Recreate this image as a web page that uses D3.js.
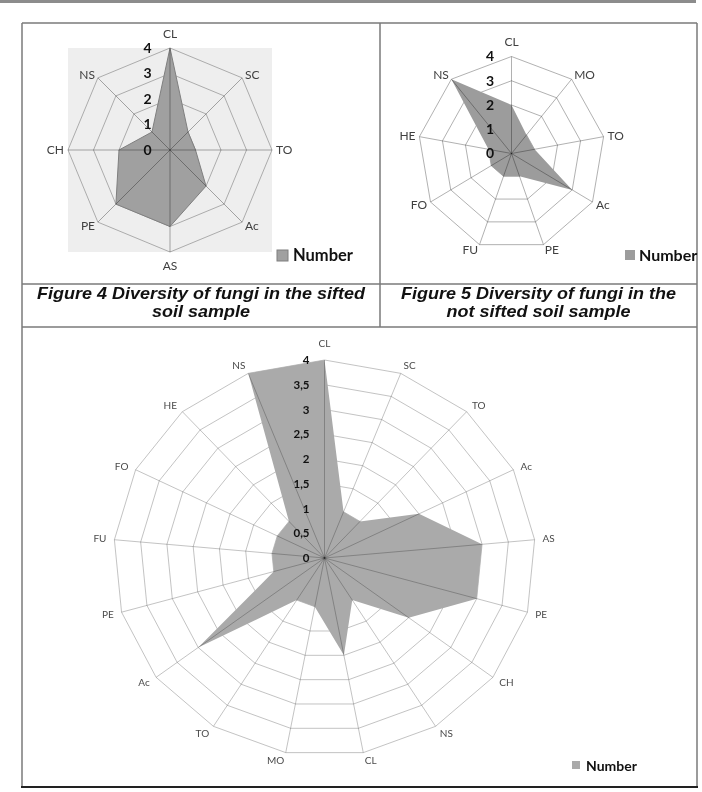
<!DOCTYPE html>
<html>
<head>
<meta charset="utf-8">
<script src="https://cdn.jsdelivr.net/npm/d3@7"></script>
<style>
  body { margin: 0; background: #fff; }
  svg { display: block; }
</style>
</head>
<body>
<svg id="page" width="702" height="792"></svg>
<script>
// Figure 4 - sifted soil sample
var fig4Categories = ["CL", "SC", "TO", "Ac", "AS", "PE", "CH", "NS"];
var fig4Values = [4, 1, 1, 2, 3, 3, 2, 1];
var fig4Ticks = [0, 1, 2, 3, 4];

// Figure 5 - not sifted soil sample
var fig5Categories = ["CL", "MO", "TO", "Ac", "PE", "FU", "FO", "HE", "NS"];
var fig5Values = [2, 1, 1, 3, 1, 1, 1, 1, 4];
var fig5Ticks = [0, 1, 2, 3, 4];

// Both samples in one chart
var allCategories = ["CL", "SC", "TO", "Ac", "AS", "PE", "CH", "NS",
                     "CL", "MO", "TO", "Ac", "PE", "FU", "FO", "HE", "NS"];
var allValues = [4, 1, 1, 2, 3, 3, 2, 1, 2, 1, 1, 3, 1, 1, 1, 1, 4];
var allTicks = [0, 0.5, 1, 1.5, 2, 2.5, 3, 3.5, 4];

var seriesName = "Number";
var captions = [
  ["Figure 4 Diversity of fungi in the sifted", "soil sample"],
  ["Figure 5 Diversity of fungi in the", "not sifted soil sample"]
];

// decimal comma, like the original
var fmt = d3.formatLocale({decimal: ",", thousands: ".", grouping: [3], currency: ["", ""]}).format("~g");

var svg = d3.select("#page");

// page rule and table frame
svg.append("rect").attr("x", 0).attr("y", 0).attr("width", 696).attr("height", 3).attr("fill", "#8c8c8c");

var frame = svg.append("g").attr("stroke", "#7a7a7a").attr("stroke-width", 1.5).attr("fill", "none");
frame.append("line").attr("x1", 22).attr("y1", 23).attr("x2", 697).attr("y2", 23);
frame.append("line").attr("x1", 22).attr("y1", 23).attr("x2", 22).attr("y2", 787);
frame.append("line").attr("x1", 697).attr("y1", 23).attr("x2", 697).attr("y2", 787);
frame.append("line").attr("x1", 380).attr("y1", 23).attr("x2", 380).attr("y2", 327);
frame.append("line").attr("x1", 22).attr("y1", 284).attr("x2", 697).attr("y2", 284);
frame.append("line").attr("x1", 22).attr("y1", 327).attr("x2", 697).attr("y2", 327);
svg.append("line").attr("x1", 21).attr("y1", 787).attr("x2", 698).attr("y2", 787)
  .attr("stroke", "#222").attr("stroke-width", 2);

// captions under the two small charts (the scanned page is a bit stretched sideways)
[201, 538.5].forEach(function(cx, k) {
  svg.append("text")
    .attr("transform", "translate(" + cx + ",0) scale(1.125,1)")
    .attr("y", 299.5)
    .attr("text-anchor", "middle")
    .style("font", "italic bold 16px 'Liberation Sans', Arial, sans-serif")
    .attr("fill", "#111")
    .selectAll("tspan")
    .data(captions[k])
    .enter().append("tspan")
      .attr("x", 0)
      .attr("dy", function(d, i) { return i ? 18 : 0; })
      .text(function(d) { return d; });
});

function drawRadar(cfg) {
  var n = cfg.categories.length;
  var angle = d3.scaleLinear().domain([0, n]).range([0, 2 * Math.PI]);
  var rx = d3.scaleLinear().domain([0, 4]).range([0, cfg.rx]);
  var ry = d3.scaleLinear().domain([0, 4]).range([0, cfg.ry]);

  function point(i, v) {
    var a = angle(i);
    return [cfg.cx + rx(v) * Math.sin(a), cfg.cy - ry(v) * Math.cos(a)];
  }

  var closed = d3.line().curve(d3.curveLinearClosed);
  var g = svg.append("g");

  if (cfg.background) {
    g.append("rect")
      .attr("x", cfg.cx - cfg.rx).attr("y", cfg.cy - cfg.ry)
      .attr("width", 2 * cfg.rx).attr("height", 2 * cfg.ry)
      .attr("fill", cfg.background);
  }

  // rings
  g.selectAll(".ring")
    .data(cfg.ticks.filter(function(t) { return t > 0; }))
    .enter().append("path")
      .attr("class", "ring")
      .attr("d", function(t) { return closed(d3.range(n).map(function(i) { return point(i, t); })); })
      .attr("fill", "none")
      .attr("stroke", cfg.grid)
      .attr("stroke-width", 0.9);

  // the series
  g.append("path")
    .attr("d", closed(cfg.values.map(function(v, i) { return point(i, v); })))
    .attr("fill", cfg.fill)
    .attr("stroke", cfg.stroke || "none")
    .attr("stroke-width", 1);

  // spokes, multiplied so they darken inside the filled area
  g.selectAll(".spoke")
    .data(d3.range(n))
    .enter().append("line")
      .attr("class", "spoke")
      .attr("x1", cfg.cx).attr("y1", cfg.cy)
      .attr("x2", function(i) { return point(i, 4)[0]; })
      .attr("y2", function(i) { return point(i, 4)[1]; })
      .attr("stroke", cfg.grid)
      .attr("stroke-width", 0.9)
      .style("mix-blend-mode", "multiply");

  // category labels
  g.selectAll(".cat")
    .data(cfg.categories)
    .enter().append("text")
      .attr("class", "cat")
      .each(function(d, i) {
        var a = angle(i), s = Math.sin(a), c = Math.cos(a);
        var p = point(i, 4);
        var vertical = Math.abs(s) < 0.05;
        d3.select(this)
          .attr("x", p[0] + (vertical ? 0 : s * cfg.gapX))
          .attr("y", p[1] - c * (vertical ? cfg.topGap : cfg.gapY))
          .attr("dy", "0.35em")
          .attr("text-anchor", vertical ? "middle" : (s > 0 ? "start" : "end"));
      })
      .style("font", cfg.catFont)
      .attr("fill", cfg.catColor)
      .text(function(d) { return d; });

  // value axis labels
  g.selectAll(".tick")
    .data(cfg.ticks)
    .enter().append("text")
      .attr("class", "tick")
      .attr("x", cfg.cx - cfg.tickOffset)
      .attr("y", function(t) { return cfg.cy - ry(t); })
      .attr("dy", "0.35em")
      .attr("text-anchor", "end")
      .style("font", cfg.tickFont)
      .attr("fill", "#111")
      .text(fmt);

  // legend
  var lg = cfg.legend;
  g.append("rect")
    .attr("x", lg.x).attr("y", lg.y)
    .attr("width", lg.size).attr("height", lg.size)
    .attr("fill", cfg.fill)
    .attr("stroke", cfg.stroke || "none");
  g.append("text")
    .attr("x", lg.tx).attr("y", lg.ty)
    .style("font", lg.font)
    .attr("fill", "#111")
    .text(seriesName);
}

drawRadar({
  categories: fig4Categories, values: fig4Values, ticks: fig4Ticks,
  cx: 170, cy: 150, rx: 102, ry: 102,
  background: "#eeeeee", grid: "#a4a4a4", fill: "#a0a0a0", stroke: "#7f7f7f",
  catFont: "12px Lato, sans-serif", catColor: "#404040",
  gapX: 4, gapY: 5, topGap: 14,
  tickFont: "bold 14px Lato, sans-serif", tickOffset: 18.5,
  legend: {x: 277, y: 250, size: 11, tx: 293, ty: 261, font: "bold 16.5px Lato, sans-serif"}
});

drawRadar({
  categories: fig5Categories, values: fig5Values, ticks: fig5Ticks,
  cx: 511.5, cy: 153.5, rx: 93.5, ry: 97,
  grid: "#a8a8a8", fill: "#9c9c9c",
  catFont: "12px Lato, sans-serif", catColor: "#404040",
  gapX: 4, gapY: 6, topGap: 15,
  tickFont: "bold 14px Lato, sans-serif", tickOffset: 17.5,
  legend: {x: 625, y: 250, size: 10, tx: 639, ty: 260.5, font: "bold 16px Lato, sans-serif"}
});

drawRadar({
  categories: allCategories, values: allValues, ticks: allTicks,
  cx: 324.5, cy: 558, rx: 211, ry: 198,
  grid: "#bcbcbc", fill: "#aaaaaa",
  catFont: "10px Lato, sans-serif", catColor: "#4a4a4a",
  gapX: 8, gapY: 8, topGap: 16.5,
  tickFont: "bold 11.5px Lato, sans-serif", tickOffset: 15,
  legend: {x: 572, y: 761, size: 8, tx: 586, ty: 770.5, font: "bold 14px Lato, sans-serif"}
});
</script>
</body>
</html>
